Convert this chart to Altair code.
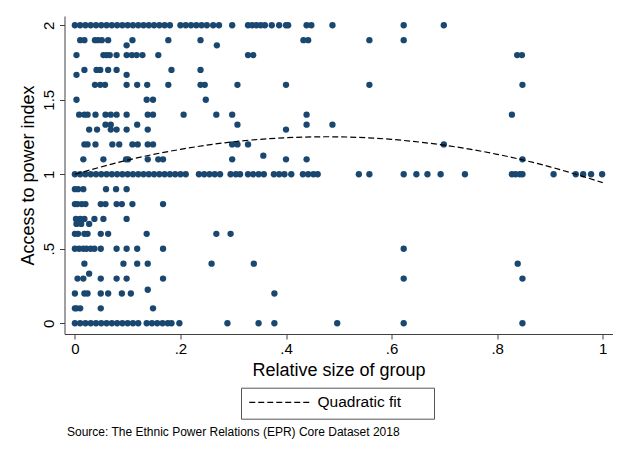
import altair as alt
import pandas as pd

NAVY = "#1a476f"
FONT = "Liberation Sans"

# Relative group size of every group, listed by its access-to-power index value
SIZE_AT_2_00 = [0.00, 0.01, 0.02, 0.03, 0.04, 0.05, 0.06, 0.07, 0.08, 0.09, 0.10, 0.11, 0.12,
                0.13, 0.14, 0.15, 0.16, 0.17, 0.18, 0.20, 0.21, 0.22, 0.23, 0.24, 0.25, 0.262,
                0.273, 0.298, 0.328, 0.336, 0.344, 0.352, 0.36, 0.373, 0.387, 0.400, 0.404,
                0.439, 0.448, 0.488, 0.623, 0.699]
SIZE_AT_1_90 = [0.010, 0.018, 0.038, 0.044, 0.051, 0.063, 0.109, 0.177, 0.238, 0.433, 0.442,
                0.558, 0.623]
SIZE_AT_1_865 = [0.098, 0.269]
SIZE_AT_1_80 = [0.003, 0.054, 0.060, 0.066, 0.079, 0.098, 0.108, 0.117, 0.128, 0.158, 0.328,
                0.338, 0.838, 0.847]
SIZE_AT_1_70 = [0.018, 0.041, 0.048, 0.063, 0.079, 0.183, 0.238]
SIZE_AT_1_667 = [0.003, 0.098]
SIZE_AT_1_60 = [0.038, 0.048, 0.057, 0.098, 0.118, 0.137, 0.177, 0.238, 0.246, 0.308, 0.400,
                0.558, 0.848]
SIZE_AT_1_50 = [0.003, 0.136, 0.148, 0.248]
SIZE_AT_1_40 = [0.008, 0.018, 0.024, 0.039, 0.058, 0.068, 0.079, 0.098, 0.138, 0.148, 0.206,
                0.268, 0.298, 0.439, 0.828]
SIZE_AT_1_333 = [0.058, 0.068, 0.118, 0.308, 0.439, 0.488]
SIZE_AT_1_30 = [0.027, 0.042, 0.068, 0.079, 0.098, 0.138, 0.400]
SIZE_AT_1_20 = [0.018, 0.024, 0.039, 0.071, 0.084, 0.109, 0.119, 0.138, 0.148, 0.298, 0.308,
                0.328, 0.699]
SIZE_AT_1_125 = [0.357]
SIZE_AT_1_10 = [0.016, 0.054, 0.097, 0.101, 0.138, 0.158, 0.167, 0.298, 0.400, 0.439, 0.848]
SIZE_AT_1_00 = [0.00, 0.01, 0.02, 0.03, 0.04, 0.05, 0.06, 0.07, 0.08, 0.09, 0.10, 0.11, 0.12,
                0.13, 0.14, 0.15, 0.16, 0.17, 0.18, 0.19, 0.200, 0.210, 0.235, 0.245, 0.255,
                0.265, 0.275, 0.295, 0.305, 0.313, 0.328, 0.338, 0.348, 0.358, 0.377, 0.387,
                0.397, 0.410, 0.432, 0.442, 0.452, 0.460, 0.538, 0.558, 0.623, 0.647, 0.668,
                0.693, 0.739, 0.828, 0.835, 0.843, 0.848, 0.907, 0.949, 0.963, 0.978, 0.999]
SIZE_AT_0_90 = [0.000, 0.006, 0.016, 0.059, 0.078, 0.098]
SIZE_AT_0_80 = [0.000, 0.005, 0.013, 0.020, 0.049, 0.058, 0.079, 0.089, 0.109, 0.167]
SIZE_AT_0_70 = [0.002, 0.010, 0.018, 0.037, 0.054, 0.098]
SIZE_AT_0_667 = [0.003, 0.012, 0.027]
SIZE_AT_0_60 = [0.000, 0.006, 0.018, 0.024, 0.049, 0.063, 0.136, 0.268, 0.295]
SIZE_AT_0_50 = [0.000, 0.008, 0.016, 0.022, 0.030, 0.037, 0.049, 0.079, 0.098, 0.118, 0.167,
                0.623]
SIZE_AT_0_40 = [0.018, 0.092, 0.118, 0.138, 0.259, 0.339, 0.839]
SIZE_AT_0_333 = [0.027]
SIZE_AT_0_30 = [0.005, 0.016, 0.049, 0.079, 0.098, 0.167, 0.623, 0.848]
SIZE_AT_0_225 = [0.138]
SIZE_AT_0_20 = [0.000, 0.018, 0.024, 0.049, 0.063, 0.089, 0.106, 0.378]
SIZE_AT_0_10 = [0.000, 0.003, 0.010, 0.049, 0.148]
SIZE_AT_0_00 = [0.00, 0.01, 0.02, 0.03, 0.04, 0.05, 0.06, 0.07, 0.08, 0.09, 0.10, 0.11, 0.12,
                0.136, 0.146, 0.156, 0.166, 0.176, 0.183, 0.198, 0.289, 0.348, 0.378, 0.497,
                0.623, 0.848]

ACCESS_VALUES = [2.0, 1.9, 1.865, 1.8, 1.7, 1.667, 1.6, 1.5, 1.4, 1.333, 1.3, 1.2, 1.125, 1.1,
                 1.0, 0.9, 0.8, 0.7, 0.667, 0.6, 0.5, 0.4, 0.333, 0.3, 0.225, 0.2, 0.1, 0.0]
SIZE_LISTS = [SIZE_AT_2_00, SIZE_AT_1_90, SIZE_AT_1_865, SIZE_AT_1_80, SIZE_AT_1_70,
              SIZE_AT_1_667, SIZE_AT_1_60, SIZE_AT_1_50, SIZE_AT_1_40, SIZE_AT_1_333,
              SIZE_AT_1_30, SIZE_AT_1_20, SIZE_AT_1_125, SIZE_AT_1_10, SIZE_AT_1_00,
              SIZE_AT_0_90, SIZE_AT_0_80, SIZE_AT_0_70, SIZE_AT_0_667, SIZE_AT_0_60,
              SIZE_AT_0_50, SIZE_AT_0_40, SIZE_AT_0_333, SIZE_AT_0_30, SIZE_AT_0_225,
              SIZE_AT_0_20, SIZE_AT_0_10, SIZE_AT_0_00]

# Quadratic fit curve
FIT_SIZE = [0.0, 0.1, 0.2, 0.3, 0.4, 0.5, 0.6, 0.7, 0.8, 0.9, 1.0]
FIT_ACCESS = [1.00, 1.095, 1.167, 1.218, 1.245, 1.251, 1.234, 1.195, 1.134, 1.050, 0.944]

X_TICKS = [0, 0.2, 0.4, 0.6, 0.8, 1.0]
Y_TICKS = [0, 0.5, 1.0, 1.5, 2.0]

pts = pd.DataFrame(
    [{"size": s, "access": a} for a, lst in zip(ACCESS_VALUES, SIZE_LISTS) for s in lst]
)
fit = pd.DataFrame({"size": FIT_SIZE, "access": FIT_ACCESS, "series": "Quadratic fit"})

strip_zero = "datum.value > 0 && datum.value < 1 ? substring(datum.label, 1) : datum.label"

x_scale = alt.Scale(domain=[-0.0197, 1.0186], nice=False, zero=False)
y_scale = alt.Scale(domain=[-0.072, 2.062], nice=False, zero=False)

x_axis = alt.Axis(values=X_TICKS, format="~g", labelExpr=strip_zero, labelPadding=2,
                  titlePadding=5)
y_axis = alt.Axis(values=Y_TICKS, format="~g", labelExpr=strip_zero, labelAngle=270,
                  labelAlign="center", labelBaseline="bottom", labelPadding=3, titlePadding=4)

points = alt.Chart(pts).mark_circle(size=40, color=NAVY, opacity=1).encode(
    x=alt.X("size:Q", scale=x_scale, axis=x_axis, title="Relative size of group"),
    y=alt.Y("access:Q", scale=y_scale, axis=y_axis, title="Access to power index"),
)

DASH = [6, 3]
PAD_TAIL = "\u00a0" * 6 + "\u200b"

line = alt.Chart(fit).mark_line(color="black", strokeWidth=1.2, interpolate="natural").encode(
    x=alt.X("size:Q", title="Relative size of group"),
    y=alt.Y("access:Q", title="Access to power index"),
    strokeDash=alt.StrokeDash(
        "series:N",
        scale=alt.Scale(domain=["Quadratic fit"], range=[DASH]),
        legend=alt.Legend(
            title=None,
            orient="none",
            legendX=176.5,
            legendY=371.7,
            padding=7,
            strokeColor="#555555",
            fillColor="white",
            cornerRadius=0,
            symbolType="M-1.3,0H10.7",
            symbolSize=100,
            symbolStrokeColor="black",
            symbolStrokeWidth=1.2,
            symbolDash=DASH,
            labelOffset=54,
            labelFont=FONT,
            labelFontSize=15.5,
            labelColor="black",
            labelExpr="datum.label + '" + PAD_TAIL + "'",
        ),
    ),
)

chart = (
    alt.layer(points, line)
    .properties(
        width=548,
        height=318,
        padding={"left": 56.5, "top": 8, "right": 8, "bottom": 118},
        autosize=alt.AutoSizeParams(type="none"),
        title=alt.TitleParams(
            text="Source: The Ethnic Power Relations (EPR) Core Dataset 2018",
            orient="bottom",
            anchor="start",
            frame="group",
            font=FONT,
            fontSize=12,
            fontWeight="normal",
            color="black",
            offset=8,
            dx=2.5,
        ),
    )
    .configure_view(strokeWidth=0)
    .configure_axis(
        grid=False,
        domainColor="#404040",
        domainWidth=1,
        tickColor="#404040",
        tickWidth=1,
        tickSize=5,
        labelFont=FONT,
        labelFontSize=15,
        labelColor="black",
        titleFont=FONT,
        titleFontSize=18,
        titleFontWeight="normal",
        titleColor="black",
    )
)

chart.save("out.html", embed_options={"renderer": "svg", "actions": False})
